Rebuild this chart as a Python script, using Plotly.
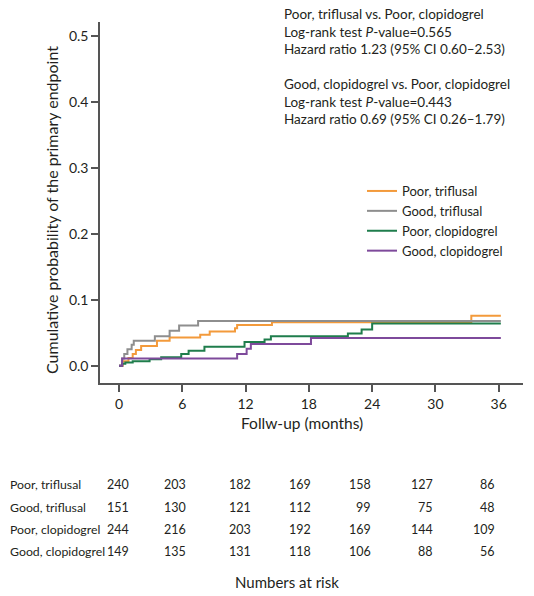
import plotly.graph_objects as go

# ---------------- data ----------------
groups = ["Poor, triflusal", "Good, triflusal", "Poor, clopidogrel", "Good, clopidogrel"]

poor_trif_t = [0, 0.35, 0.9, 1.3, 1.6, 2.1, 3.6, 4.8, 7.7, 8.6, 11.0, 11.2, 14.5, 33.4, 36.2]
poor_trif_y = [0, 0.007, 0.012, 0.018, 0.024, 0.030, 0.038, 0.043, 0.047, 0.052, 0.057, 0.062, 0.066, 0.076, 0.076]

good_trif_t = [0, 0.3, 0.5, 0.8, 1.2, 1.4, 3.4, 4.8, 5.7, 7.5, 36.2]
good_trif_y = [0, 0.011, 0.018, 0.025, 0.032, 0.038, 0.045, 0.053, 0.061, 0.068, 0.068]

poor_clop_t = [0, 0.3, 0.6, 1.3, 2.9, 4.0, 5.9, 6.6, 8.1, 11.9, 13.8, 14.4, 21.7, 23.0, 24.0, 36.2]
poor_clop_y = [0, 0.003, 0.005, 0.007, 0.010, 0.013, 0.018, 0.023, 0.029, 0.036, 0.040, 0.045, 0.049, 0.055, 0.064, 0.064]

good_clop_t = [0, 0.3, 11.2, 12.1, 12.5, 18.2, 36.2]
good_clop_y = [0, 0.011, 0.018, 0.026, 0.033, 0.042, 0.042]

risk_times = [0, 6, 12, 18, 24, 30, 36]
risk_poor_trif = [240, 203, 182, 169, 158, 127, 86]
risk_good_trif = [151, 130, 121, 112, 99, 75, 48]
risk_poor_clop = [244, 216, 203, 192, 169, 144, 109]
risk_good_clop = [149, 135, 131, 118, 106, 88, 56]

y_ticks = [0.0, 0.1, 0.2, 0.3, 0.4, 0.5]

stats_text = [
    "Poor, triflusal vs. Poor, clopidogrel",
    "Log-rank test <i>P</i>-value=0.565",
    "Hazard ratio 1.23 (95% CI 0.60\u20132.53)",
    "",
    "Good, clopidogrel vs. Poor, clopidogrel",
    "Log-rank test <i>P</i>-value=0.443",
    "Hazard ratio 0.69 (95% CI 0.26\u20131.79)",
]

# ---------------- style ----------------
FONT = "Lato"
TXT = "#231f20"
AXC = "#555555"
colors = ["#F39A3B", "#8E8E8E", "#1F7D4C", "#7E4A9B"]

W, H = 534, 596
ML, MR, MT, MB = 100, 11, 22, 213
plot_h = H - MT - MB


def paper_y(py):
    return (H - MB - py) / plot_h


def paper_x(px):
    return (px - ML) / (W - ML - MR)


fig = go.Figure()
series = [
    (poor_trif_t, poor_trif_y),
    (good_trif_t, good_trif_y),
    (poor_clop_t, poor_clop_y),
    (good_clop_t, good_clop_y),
]
for i, (name, (t, y)) in enumerate(zip(groups, series)):
    fig.add_trace(go.Scatter(
        x=t, y=y, mode="lines", name=name,
        line=dict(color=colors[i], width=2, shape="hv"),
        legendrank=i + 1, hoverinfo="skip",
    ))

annotations = []
# stats text
annotations.append(dict(
    xref="paper", yref="paper", x=paper_x(282), y=paper_y(4),
    xanchor="left", yanchor="top", align="left", showarrow=False,
    text="<br>".join(stats_text),
    font=dict(family=FONT, size=13.5, color=TXT),
))

# axis titles
annotations.append(dict(
    xref="paper", yref="paper", x=paper_x(302), y=paper_y(423),
    xanchor="center", yanchor="middle", showarrow=False, text="Follw-up (months)",
    font=dict(family=FONT, size=15.5, color=TXT),
))
annotations.append(dict(
    xref="paper", yref="paper", x=paper_x(51), y=paper_y(210),
    xanchor="center", yanchor="middle", showarrow=False, textangle=-90,
    text="Cumulative probability of the primary endpoint",
    font=dict(family=FONT, size=16, color=TXT),
))

# risk table
row_py = [484, 507, 529, 551]
col_shift = [12, 6, 7, 4, 1, 0, -2]
risk_rows = [risk_poor_trif, risk_good_trif, risk_poor_clop, risk_good_clop]
for r, (name, vals) in enumerate(zip(groups, risk_rows)):
    annotations.append(dict(
        xref="paper", yref="paper", x=paper_x(8), y=paper_y(row_py[r]),
        xanchor="left", yanchor="middle", showarrow=False, text=name,
        font=dict(family=FONT, size=12.3, color=TXT),
    ))
    for c, (tm, v) in enumerate(zip(risk_times, vals)):
        annotations.append(dict(
            xref="x", yref="paper", x=tm, y=paper_y(row_py[r]),
            xanchor="right", yanchor="middle", xshift=col_shift[c], showarrow=False,
            text=str(v), font=dict(family=FONT, size=12.5, color=TXT),
        ))
annotations.append(dict(
    xref="paper", yref="paper", x=paper_x(287), y=paper_y(582),
    xanchor="center", yanchor="middle", showarrow=False, text="Numbers at risk",
    font=dict(family=FONT, size=15, color=TXT),
))

fig.update_layout(
    width=W, height=H,
    margin=dict(l=ML, r=MR, t=MT, b=MB, autoexpand=False),
    paper_bgcolor="white", plot_bgcolor="white",
    font=dict(family=FONT, color=TXT),
    showlegend=True,
    hovermode=False,
    legend=dict(
        x=paper_x(362), y=paper_y(176), xanchor="left", yanchor="top",
        font=dict(family=FONT, size=13, color=TXT),
        bgcolor="rgba(0,0,0,0)", itemwidth=30, tracegroupgap=0,
    ),
    annotations=annotations,
)
fig.update_xaxes(
    range=[-1.8, 38.3], tickvals=risk_times, ticks="outside", ticklen=7,
    tickwidth=1.5, tickcolor=AXC, showline=True, linecolor=AXC, linewidth=1.5,
    showgrid=False, zeroline=False, automargin=False,
    tickfont=dict(family=FONT, size=14, color=TXT),
)
fig.update_yaxes(
    range=[-0.026, 0.521], tickvals=y_ticks, tickformat=".1f", ticks="outside", ticklen=7,
    tickwidth=1.5, tickcolor=AXC, showline=True, linecolor=AXC, linewidth=1.5,
    showgrid=False, zeroline=False, automargin=False,
    tickfont=dict(family=FONT, size=14, color=TXT),
)

fig.write_html(
    "out.html",
    config={"displayModeBar": False},
    post_script="document.body.style.margin='0';",
)
